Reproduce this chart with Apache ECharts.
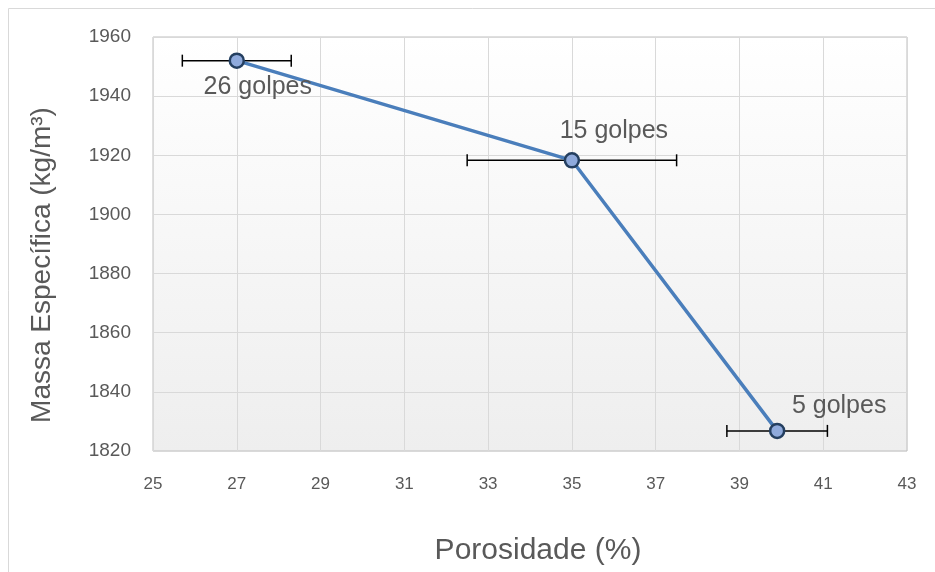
<!DOCTYPE html>
<html>
<head>
<meta charset="utf-8">
<script src="https://cdn.jsdelivr.net/npm/echarts@6/dist/echarts.min.js"></script>
<style>
  html, body { margin: 0; padding: 0; background: #fff; }
  #chart { width: 935px; height: 572px; }
</style>
</head>
<body>
<div id="chart"></div>
<script>
const echarts = window.echarts

// dados
const porosidade = [27, 35, 39.9]
const massa = [1952, 1918.3, 1826.8]
const erroX = [1.3, 2.5, 1.2]
const rotulos = ['26 golpes', '15 golpes', '5 golpes']

// posição dos rótulos
const labelPos = [
  { position: 'bottom', offset: [21, 1] },
  { position: 'top', offset: [42, -3] },
  { position: 'top', offset: [62, 1] }
]

const pontos = porosidade.map((x, i) => ({
  value: [x, massa[i]],
  label: {
    show: true,
    formatter: rotulos[i],
    position: labelPos[i].position,
    offset: labelPos[i].offset
  }
}))

const barras = porosidade.map((x, i) => [x - erroX[i], x + erroX[i], massa[i]])

const myChart = echarts.init(document.getElementById('chart'))
const option = {
  animation: false,
  graphic: [
    {
      type: 'rect',
      shape: { x: 8.5, y: 8.5, width: 940, height: 580 },
      style: { fill: 'none', stroke: '#d9d9d9', lineWidth: 1 },
      z: -10
    },
    {
      type: 'text',
      x: 42, y: 265,
      rotation: Math.PI / 2,
      style: {
        text: 'Massa Específica (kg/m³)',
        fontFamily: 'Liberation Sans', fontSize: 28, fill: '#595959',
        align: 'center', verticalAlign: 'middle'
      }
    },
    {
      type: 'text',
      x: 538, y: 551,
      style: {
        text: 'Porosidade (%)',
        fontFamily: 'Liberation Sans', fontSize: 30, fill: '#595959',
        align: 'center', verticalAlign: 'middle'
      }
    }
  ],
  grid: {
    left: 153, top: 37, right: 28, bottom: 121,
    show: true,
    borderColor: '#bfbfbf',
    borderWidth: 1,
    backgroundColor: {
      type: 'linear', x: 0, y: 0, x2: 0, y2: 1,
      colorStops: [{ offset: 0, color: '#ffffff' }, { offset: 1, color: '#eeeeee' }]
    }
  },
  xAxis: {
    type: 'value',
    min: 25, max: 43, interval: 2,
    axisLine: { show: false },
    axisTick: { show: false },
    axisLabel: { fontFamily: 'Liberation Sans', fontSize: 17, color: '#595959', margin: 25 },
    splitLine: { lineStyle: { color: '#d9d9d9' } }
  },
  yAxis: {
    type: 'value',
    min: 1820, max: 1960, interval: 20,
    axisLine: { show: false },
    axisTick: { show: false },
    axisLabel: {
      fontFamily: 'Liberation Sans', fontSize: 19, color: '#595959', margin: 22,
      formatter: v => String(v)
    },
    splitLine: { lineStyle: { color: '#d9d9d9' } }
  },
  series: [
    {
      type: 'custom',
      z: 1,
      renderItem: function (params, api) {
        const a = api.coord([api.value(0), api.value(2)])
        const b = api.coord([api.value(1), api.value(2)])
        const h = 6
        return {
          type: 'group',
          children: [
            { type: 'line', shape: { x1: a[0], y1: a[1], x2: b[0], y2: b[1] }, style: { stroke: '#000', lineWidth: 1.5 } },
            { type: 'line', shape: { x1: a[0], y1: a[1] - h, x2: a[0], y2: a[1] + h }, style: { stroke: '#000', lineWidth: 1.5 } },
            { type: 'line', shape: { x1: b[0], y1: b[1] - h, x2: b[0], y2: b[1] + h }, style: { stroke: '#000', lineWidth: 1.5 } }
          ]
        }
      },
      encode: { x: [0, 1], y: 2 },
      data: barras
    },
    {
      type: 'line',
      z: 3,
      data: pontos,
      symbol: 'circle',
      symbolSize: 14,
      lineStyle: { color: '#4a7ebb', width: 3.5 },
      itemStyle: { color: '#8faadc', borderColor: '#243f60', borderWidth: 2.5 },
      label: { fontFamily: 'Liberation Sans', fontSize: 25, color: '#595959' }
    }
  ]
}
myChart.setOption(option)
</script>
</body>
</html>
